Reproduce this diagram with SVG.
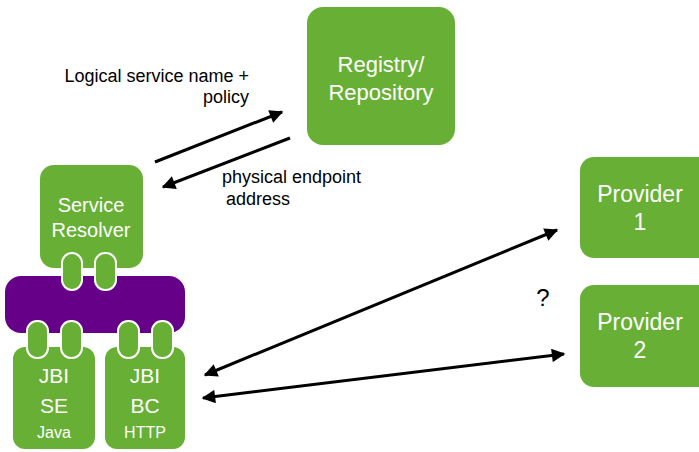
<svg xmlns="http://www.w3.org/2000/svg" width="699" height="452" viewBox="0 0 699 452">
<defs>
<style>
.box{fill:#67b035;}
.pill{fill:#67b035;stroke:#ffffff;stroke-width:2;}
.bus{fill:#660088;}
.wt{fill:#ffffff;font-family:"Liberation Sans",Arial,sans-serif;text-anchor:middle;}
.lbl{fill:#000000;font-family:"Liberation Sans",Arial,sans-serif;}
.conn{stroke:#000000;stroke-width:3;fill:none;}
</style>
<marker id="ah" viewBox="0 0 10 10" refX="9" refY="5" markerWidth="5" markerHeight="4.5" orient="auto-start-reverse" markerUnits="strokeWidth">
<path d="M0,0 L10,5 L0,10 z" fill="#000000"/>
</marker>
</defs>
<rect width="699" height="452" fill="#ffffff"/>

<g id="registry">
<rect class="box" x="307" y="7" width="148" height="138" rx="16"/>
<text class="wt" x="381" y="72" font-size="22">Registry/</text>
<text class="wt" x="381" y="100" font-size="22">Repository</text>
</g>

<g id="service-resolver">
<rect class="box" x="40" y="165" width="103" height="103" rx="14"/>
<text class="wt" x="91" y="212" font-size="20">Service</text>
<text class="wt" x="91" y="237" font-size="20">Resolver</text>
</g>

<g id="bus">
<rect class="bus" x="5" y="276" width="180" height="57" rx="16"/>
</g>

<g id="jbi-se">
<rect class="box" x="13" y="347" width="82" height="102" rx="12"/>
<text class="wt" x="54" y="383" font-size="21">JBI</text>
<text class="wt" x="54" y="413" font-size="21">SE</text>
<text class="wt" x="54" y="438" font-size="16">Java</text>
</g>

<g id="jbi-bc">
<rect class="box" x="105" y="347" width="80" height="102" rx="12"/>
<text class="wt" x="145" y="383" font-size="21">JBI</text>
<text class="wt" x="145" y="413" font-size="21">BC</text>
<text class="wt" x="145" y="438" font-size="16">HTTP</text>
</g>

<g id="pills">
<rect class="pill" x="62" y="253" width="20" height="37" rx="10"/>
<rect class="pill" x="95" y="253" width="21" height="37" rx="10"/>
<rect class="pill" x="27" y="321" width="21" height="37" rx="10"/>
<rect class="pill" x="61" y="321" width="21" height="37" rx="10"/>
<rect class="pill" x="118" y="321" width="21" height="37" rx="10"/>
<rect class="pill" x="152" y="321" width="21" height="37" rx="10"/>
</g>

<g id="provider-1">
<rect class="box" x="580" y="157" width="135" height="101" rx="14"/>
<text class="wt" x="640" y="202" font-size="23">Provider</text>
<text class="wt" x="640" y="230" font-size="23">1</text>
</g>

<g id="provider-2">
<rect class="box" x="580" y="285" width="135" height="102" rx="14"/>
<text class="wt" x="640" y="330" font-size="23">Provider</text>
<text class="wt" x="640" y="358" font-size="23">2</text>
</g>

<g id="connectors">
<line class="conn" x1="155" y1="162" x2="282" y2="112" marker-end="url(#ah)"/>
<line class="conn" x1="290" y1="138" x2="163" y2="187" marker-end="url(#ah)"/>
<line class="conn" x1="205" y1="375" x2="557" y2="230" marker-start="url(#ah)" marker-end="url(#ah)"/>
<line class="conn" x1="203" y1="398" x2="564" y2="354" marker-start="url(#ah)" marker-end="url(#ah)"/>
</g>

<g id="labels">
<text class="lbl" x="249" y="82" text-anchor="end" font-size="18">Logical service name +</text>
<text class="lbl" x="249" y="103" text-anchor="end" font-size="18">policy</text>
<text class="lbl" x="222" y="183" font-size="18">physical endpoint</text>
<text class="lbl" x="226" y="205" font-size="18">address</text>
<text class="lbl" x="543" y="306" font-size="24" text-anchor="middle">?</text>
</g>
</svg>
